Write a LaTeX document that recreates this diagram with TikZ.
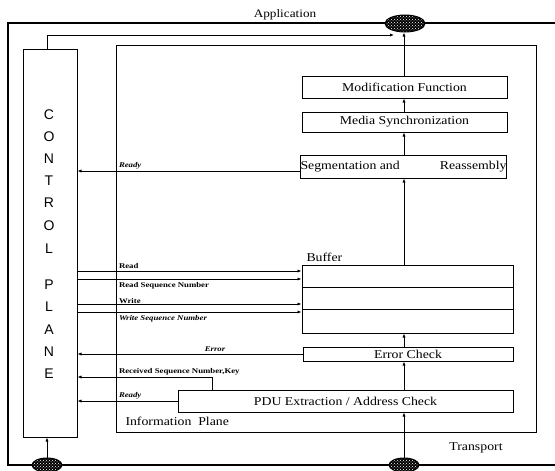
\documentclass[tikz,border=0pt]{standalone}
\usepackage{fontspec}
\setmainfont{Liberation Serif}
\newfontfamily\boxfont[FakeStretch=1.15]{Liberation Serif}
\newfontfamily\lblfont[FakeStretch=1.2]{Liberation Serif}
\newfontfamily\cpfont{Liberation Sans}
\usetikzlibrary{shapes.geometric,patterns,arrows.meta}
\begin{document}
\begin{tikzpicture}[x=1pt,y=-1pt,
 line width=1pt,
 fbox/.style={draw, rectangle, inner sep=0pt, font=\boxfont\fontsize{12}{14}\selectfont},
 hub/.style={ellipse, draw, preaction={fill=black}, pattern=crosshatch dots, pattern color=white, inner sep=0pt},
 arr/.style={-{Latex[length=4pt,width=3.2pt]}},
 lbl/.style={font=\lblfont\fontsize{7.3}{8}\selectfont\bfseries, inner sep=0.5pt},
 lbli/.style={font=\lblfont\fontsize{7.3}{8}\selectfont\bfseries\itshape, inner sep=0.5pt},
 txt/.style={font=\boxfont\fontsize{12}{14}\selectfont, inner sep=0pt},
 cpl/.style={font=\cpfont\fontsize{14}{16}\selectfont, inner sep=0pt}
]
\useasboundingbox (0,0) rectangle (555,471);
% outer frame
\draw[line width=1.1pt] (555,23) -- (8,23) -- (8,465) -- (555,465);
% information plane frame
\node[draw, rectangle, minimum width=420pt, minimum height=387pt, inner sep=0pt] (ip) at (326,238.5) {};
% control plane
\node[draw, rectangle, minimum width=54pt, minimum height=388pt, inner sep=0pt] (cp) at (50,243) {};
\foreach \l/\y in {C/115,O/137,N/159,T/181,R/203,O/226,L/249,P/285,L/307,A/330,N/352,E/374}
  \node[cpl] at (49,\y) {\l};
% hubs
\node[hub, minimum width=40pt, minimum height=17pt] (app) at (405,23.5) {};
\node[hub, minimum width=30pt, minimum height=14pt] (blh) at (47,465) {};
\node[hub, minimum width=30pt, minimum height=14pt] (brh) at (404,465) {};
% boxes
\node[fbox, minimum width=205pt, minimum height=22pt] (mod) at (404.5,87) {Modification Function};
\node[fbox, minimum width=205pt, minimum height=20pt] (med) at (404.5,122) {Media Synchronization};
\node[fbox, minimum width=203pt, minimum height=23pt] (seg) at (403.5,166.5) {\makebox[206pt]{Segmentation and\hfill Reassembly}};
\node[fbox, minimum width=211pt, minimum height=22pt] (buf1) at (407.5,276) {};
\node[fbox, minimum width=211pt, minimum height=22pt] (buf2) at (407.5,298) {};
\node[fbox, minimum width=211pt, minimum height=24pt] (buf3) at (407.5,321) {};
\node[fbox, minimum width=210pt, minimum height=14pt] (err) at (408,354) {Error Check};
\node[fbox, minimum width=335pt, minimum height=22pt] (pdu) at (345.5,401) {PDU Extraction / Address Check};
% texts
\node[txt, font=\boxfont\fontsize{11.5}{13}\selectfont] (apl) at (285,15) {Application};
\node[txt, anchor=base west] (bufl) at (306,261) {Buffer};
\node[txt, anchor=west] (ipl) at (125,421) {Information\ \ Plane};
\node[txt] (trl) at (476,448) {Transport};
% vertical flow
\draw[arr] (brh.north) -- (brh.north |- pdu.south);
\draw[arr] (404,0 |- pdu.north) -- (404,0 |- err.south);
\draw[arr] (404,0 |- err.north) -- (404,0 |- buf3.south);
\draw[arr] (404,0 |- buf1.north) -- (404,0 |- seg.south);
\draw[arr] (404,0 |- seg.north) -- (404,0 |- med.south);
\draw[arr] (404,0 |- med.north) -- (404,0 |- mod.south);
\draw[arr] (404,0 |- mod.north) -- (404,0 |- app.south);
% control plane links
\coordinate (appin) at (394,35);
\draw[arr] ([xshift=-3pt]cp.north) |- (appin);
\draw[arr] (blh.north) -- (blh.north |- cp.south);
\draw[arr] (seg.west |- 0,171) -- (cp.east |- 0,171);
\node[lbli, anchor=south west] (l1) at (118,170) {Ready};
\draw[arr] (cp.east |- 0,271) -- (buf1.west |- 0,271);
\node[lbl, anchor=south west] (l2) at (118,270) {Read};
\draw[arr] (cp.east |- 0,279) -- (buf1.west |- 0,279);
\node[lbl, anchor=north west] (l3) at (118,281) {Read Sequence Number};
\draw[arr] (cp.east |- 0,304) -- (buf2.west |- 0,304);
\node[lbl, anchor=south west] (l4) at (118,304.5) {Write};
\draw[arr] (cp.east |- 0,312) -- (buf3.west |- 0,312);
\node[lbli, anchor=north west] (l5) at (118,314) {Write Sequence Number};
\draw[arr] (err.west) -- (cp.east |- err.west);
\node[lbli, anchor=south] (l6) at (215,353) {Error};
\draw[arr] (212,0 |- pdu.north) |- (cp.east |- 0,377);
\node[lbl, anchor=south west] (l7) at (118,376.5) {Received Sequence Number,Key};
\draw[arr] (pdu.west) -- (cp.east |- pdu.west);
\node[lbli, anchor=south west] (l8) at (118,400) {Ready};
\end{tikzpicture}
\end{document}
